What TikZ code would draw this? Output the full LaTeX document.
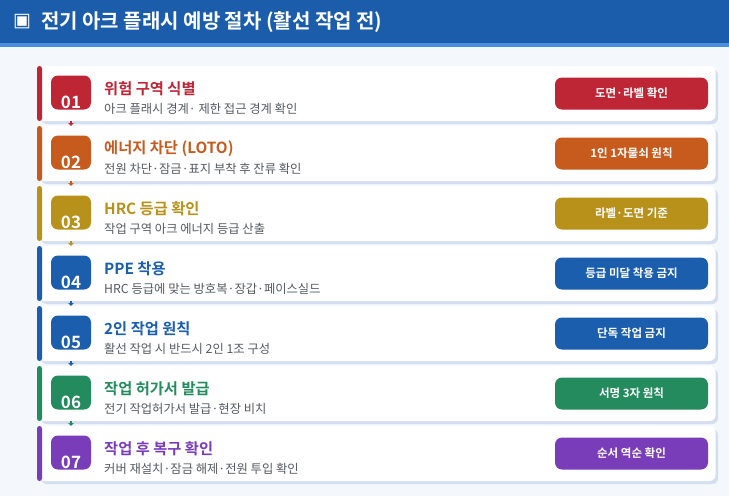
\documentclass[tikz,border=0pt]{standalone}
\usepackage{fontspec}
\setmainfont{Noto Sans CJK KR}[BoldFont={Noto Sans CJK KR Bold}]
\newfontfamily\symfont{DejaVu Sans}
\usetikzlibrary{arrows.meta,shadows}

\definecolor{hdrblue}{HTML}{1B5CAB}
\definecolor{hdrline}{HTML}{4A8FE0}
\definecolor{pagebg}{HTML}{F4F7FC}
\definecolor{cardshadow}{HTML}{D3DEEF}
\definecolor{subgray}{HTML}{555A60}
\definecolor{stepred}{HTML}{BE2636}
\definecolor{steporange}{HTML}{C75B1E}
\definecolor{stepgold}{HTML}{B8911B}
\definecolor{stepblue}{HTML}{1B5EAD}
\definecolor{stepgreen}{HTML}{238B5E}
\definecolor{steppurple}{HTML}{7A3DBA}

\tikzset{
  cardbox/.style={fill=white, rounded corners=6pt, minimum width=677pt, minimum height=55pt,
    inner sep=0pt, drop shadow={shadow xshift=2.5pt, shadow yshift=-3pt, fill=cardshadow, opacity=1}},
  sidebar/.style={rounded corners=2.5pt, minimum width=5pt, minimum height=55pt, inner sep=0pt},
  badge/.style={rounded corners=7pt, minimum width=40pt, minimum height=34pt, inner sep=0pt},
  numtext/.style={text=white, inner sep=0pt, font=\bfseries\fontsize{17}{17}\selectfont},
  headtext/.style={anchor=west, inner sep=0pt, font=\bfseries\fontsize{15.3}{17}\selectfont},
  subtext/.style={anchor=west, inner sep=0pt, text=subgray, font=\fontsize{12.3}{14}\selectfont},
  pill/.style={rounded corners=7pt, minimum width=153pt, minimum height=32pt, inner sep=0pt,
    text=white, font=\bfseries\fontsize{11.5}{13}\selectfont},
  link/.style={line width=1.2pt, -{Stealth[length=3pt,width=6pt]}}
}

\begin{document}
\begin{tikzpicture}[x=1pt,y=-1pt]
  \fill[pagebg] (0,0) rectangle (729,496);
  \useasboundingbox (0,0) rectangle (729,496);
  % header
  \fill[hdrblue] (0,0) rectangle (729,43);
  \fill[hdrline] (0,43) rectangle (729,47);
  \node[anchor=west, inner sep=0pt, text=white, font=\symfont\fontsize{19}{19}\selectfont] (icon) at (13,22) {▣};
  \node[anchor=west, inner sep=0pt, text=white, font=\bfseries\fontsize{20}{22}\selectfont] (title) at (41,22)
    {전기 아크 플래시 예방 절차 (활선 작업 전)};

  % steps
  \foreach \i/\col/\head/\sub/\tag in {
      1/stepred/위험 구역 식별/아크 플래시 경계· 제한 접근 경계 확인/도면·라벨 확인,
      2/steporange/에너지 차단 (LOTO)/전원 차단·잠금·표지 부착 후 잔류 확인/1인 1자물쇠 원칙,
      3/stepgold/HRC 등급 확인/작업 구역 아크 에너지 등급 산출/라벨·도면 기준,
      4/stepblue/PPE 착용/HRC 등급에 맞는 방호복·장갑·페이스실드/등급 미달 착용 금지,
      5/stepblue/2인 작업 원칙/활선 작업 시 반드시 2인 1조 구성/단독 작업 금지,
      6/stepgreen/작업 허가서 발급/전기 작업허가서 발급·현장 비치/서명 3자 원칙,
      7/steppurple/작업 후 복구 확인/커버 재설치·잠금 해제·전원 투입 확인/순서 역순 확인} {
    \pgfmathsetmacro\ytop{66+60*(\i-1)}
    \node[cardbox] (card\i) at (377,\ytop+27.5) {};
    \node[sidebar, fill=\col] (bar\i) at (39.5,\ytop+27.5) {};
    \node[badge, fill=\col] (badge\i) at (71,\ytop+26.5) {};
    \node[numtext] (num\i) at (71,\ytop+36) {0\i};
    \node[headtext, text=\col] (head\i) at (104,\ytop+23) {\head};
    \node[subtext] (sub\i) at (104,\ytop+42.5) {\sub};
    \node[pill, fill=\col] (tag\i) at (631.5,\ytop+27.5) {\tag};
  }

  % links between steps
  \foreach \i/\j/\col in {1/2/stepred, 2/3/steporange, 3/4/stepgold, 4/5/stepblue,
      5/6/stepblue, 6/7/stepgreen} {
    \draw[link, \col] (card\i.south -| badge\i) -- (card\j.north -| badge\i);
  }
\end{tikzpicture}
\end{document}
